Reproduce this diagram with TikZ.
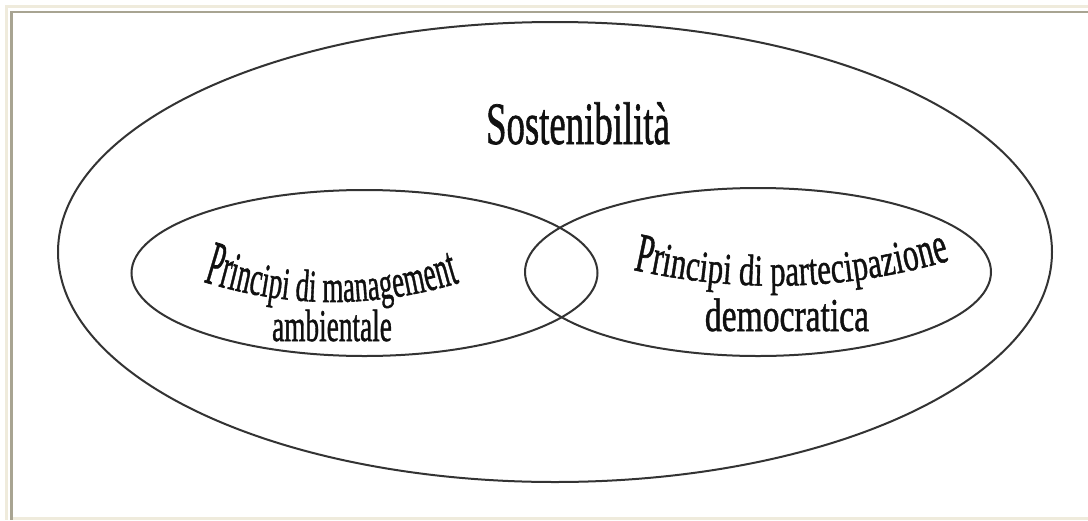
\documentclass[tikz,border=0pt]{standalone}
\usepackage{fontspec}
\usepackage{graphicx}
\setmainfont{Liberation Serif}
\newfontfamily\archfam[FakeBold=1.2]{Liberation Serif}
\usetikzlibrary{shapes.geometric}
\definecolor{framebeige}{HTML}{EFEBDC}
\definecolor{frameline}{HTML}{A8A492}
\definecolor{ink}{HTML}{101010}
\definecolor{stroke}{HTML}{333333}
% base type size for all labels; shapes are obtained by scaling
\def\archsize{42}
\def\archfont{\archfam\fontsize{42pt}{42pt}\selectfont}
% the baseline curve: x of start and end (controls evenly spaced in x), y of the four points
\def\archcurve#1#2#3#4#5#6{\gdef\arcXa{#1}\gdef\arcXb{#2}%
  \gdef\arcYa{#3}\gdef\arcYb{#4}\gdef\arcYc{#5}\gdef\arcYd{#6}}
% letters set one by one on the curve
% #1 name prefix, #2 x where the text starts, #3 horizontal scale,
% #4 list advance(em)/vscale/letter
\newcommand\archline[4]{%
  \xdef\arcacc{0}%
  \foreach[count=\k] \archadv/\archv/\archc in {#4}{%
    \pgfmathsetmacro\archcw{#3*\archsize*\archadv}%
    \pgfmathsetmacro\archx{#2+\arcacc+0.5*\archcw}%
    \pgfmathsetmacro\archt{(\archx-\arcXa)/(\arcXb-\arcXa)}%
    \pgfmathsetmacro\archy{(1-\archt)^3*\arcYa+3*(1-\archt)^2*\archt*\arcYb+3*(1-\archt)*\archt^2*\arcYc+\archt^3*\arcYd}%
    \pgfmathsetmacro\archdy{3*(1-\archt)^2*(\arcYb-\arcYa)+6*(1-\archt)*\archt*(\arcYc-\arcYb)+3*\archt^2*(\arcYd-\arcYc)}%
    \pgfmathsetmacro\archrot{-atan(\archdy/(\arcXb-\arcXa))}%
    \node[archchar, rotate=\archrot] (#1\k) at (\archx,\archy) {\scalebox{#3}[\archv]{\archfont\archc}};%
    \pgfmathsetmacro\archnew{\arcacc+\archcw}%
    \xdef\arcacc{\archnew}%
  }%
}
\tikzset{
  set/.style={draw=stroke, line width=2pt, ellipse, inner sep=0pt, outer sep=0pt},
  label/.style={text=ink, inner sep=0pt, anchor=base},
  archchar/.style={anchor=base, inner sep=0pt, outer sep=0pt, text=ink},
}
\begin{document}
\begin{tikzpicture}[x=1pt,y=-1pt]
\useasboundingbox (0,0) rectangle (1088,520);
\fill[white] (0,0) rectangle (1088,520);
% page frame
\fill[framebeige] (5,5) rectangle (1088,7.5);
\fill[framebeige] (5,5) rectangle (7.5,520);
\fill[framebeige] (12,516.5) rectangle (1088,520);
\fill[frameline] (10,10.5) rectangle (1088,13);
\fill[frameline] (10,10.5) rectangle (12.5,520);

% sets
\node[set, minimum width=994pt, minimum height=460pt] (sost) at (555,252) {};
\node[set, minimum width=466pt, minimum height=166pt] (amb) at (364.5,273) {};
\node[set, minimum width=466pt, minimum height=168pt] (dem) at (758,272) {};

% labels
\node[label] (sostlabel) at (578,144) {\scalebox{0.875}[1.43]{\archfont Sostenibilità}};

\archcurve{195}{468}{279}{309.5}{309.5}{280}
\archline{ambA}{203}{0.64}
  {.556/1.5/P,.333/1.4/r,.278/1.3/i,.5/1.22/n,.444/1.16/c,.278/1.12/i,.5/1.1/p,.278/1.08/i,
   .25/1/{},.5/1.08/d,.278/1.08/i,.25/1/{},
   .778/1.08/m,.444/1.08/a,.5/1.08/n,.444/1.08/a,.5/1.08/g,.444/1.1/e,.778/1.14/m,.444/1.2/e,.5/1.27/n,.278/1.35/t}
\node[label] (amblabel) at (332,341) {\scalebox{0.65}[1.08]{\archfont ambientale}};

\archcurve{625}{958}{268}{294}{292}{258}
\archline{demA}{633}{0.735}
  {.556/1.32/P,.333/1.22/r,.278/1.14/i,.5/1.09/n,.444/1.06/c,.278/1.05/i,.5/1.05/p,.278/1.05/i,
   .25/1/{},.5/1.05/d,.278/1.05/i,.25/1/{},
   .5/1.05/p,.444/1.05/a,.333/1.05/r,.278/1.05/t,.444/1.05/e,.444/1.05/c,.278/1.05/i,.5/1.05/p,.444/1.05/a,
   .444/1.07/z,.278/1.1/i,.5/1.14/o,.5/1.19/n,.444/1.24/e}
\node[label] (demlabel) at (787,331) {\scalebox{0.8}[1.12]{\archfont democratica}};
\end{tikzpicture}
\end{document}
